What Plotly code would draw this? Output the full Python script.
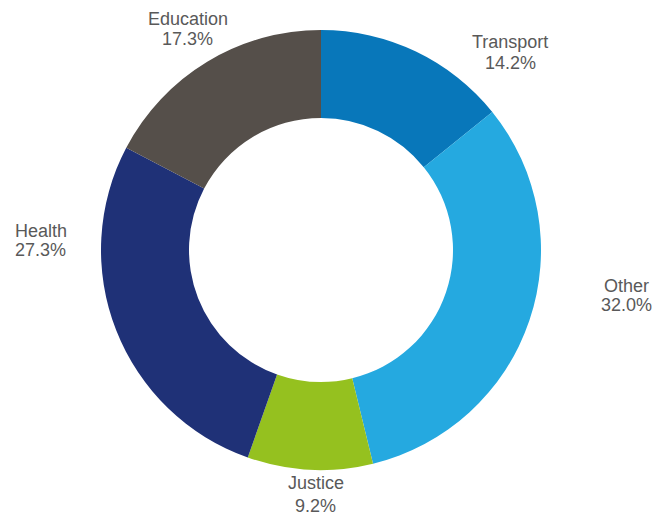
import plotly.graph_objects as go

# Spending share by portfolio
categories = ["Transport", "Other", "Justice", "Health", "Education"]
shares = [14.2, 32.0, 9.2, 27.3, 17.3]
colors = ["#0877ba", "#25a9e0", "#95c11f", "#1f3177", "#554f4a"]

W, H = 653, 516
CX, CY, R = 321, 250, 220

# label placement (pixel centre x, name-line y, percent-line y)
label_pos = {
    "Transport": (510, 42, 63),
    "Other": (626, 286, 305),
    "Justice": (315.5, 483, 506),
    "Health": (41, 231, 250),
    "Education": (187.5, 19, 38.5),
}

fig = go.Figure(
    go.Pie(
        labels=categories,
        values=shares,
        hole=0.6,
        sort=False,
        direction="clockwise",
        rotation=0,
        marker=dict(colors=colors, line=dict(width=0)),
        textinfo="none",
        showlegend=False,
        domain=dict(
            x=[(CX - R) / W, (CX + R) / W],
            y=[1 - (CY + R) / H, 1 - (CY - R) / H],
        ),
    )
)

font = dict(family="Liberation Sans, Arial, sans-serif", size=18, color="#595959")
annotations = []
for name, val in zip(categories, shares):
    x, y1, y2 = label_pos[name]
    for txt, y in ((name, y1), (f"{val:.1f}%", y2)):
        annotations.append(
            dict(
                text=txt,
                x=x / W,
                y=1 - y / H,
                xref="paper",
                yref="paper",
                xanchor="center",
                yanchor="middle",
                showarrow=False,
                font=font,
            )
        )

fig.update_layout(
    width=W,
    height=H,
    margin=dict(l=0, r=0, t=0, b=0),
    paper_bgcolor="white",
    plot_bgcolor="white",
    annotations=annotations,
)

fig.write_html("out.html")
